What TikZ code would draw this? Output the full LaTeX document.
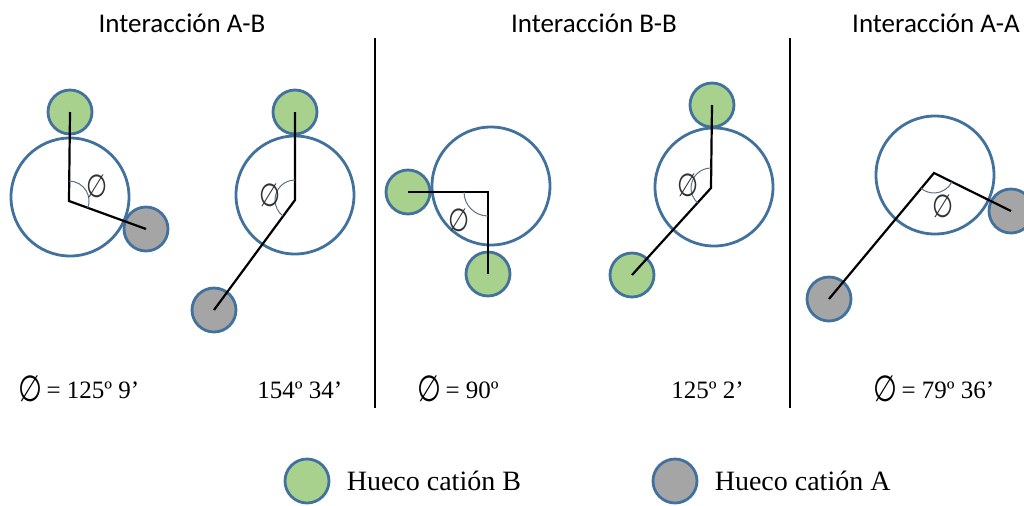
\documentclass[tikz,border=0pt]{standalone}
\usepackage{graphicx}
\usepackage{fontspec}
\setmainfont{Liberation Serif}
\newfontfamily\titulofont{Carlito}
\newfontfamily\simbolofont{DejaVu Sans}
\usetikzlibrary{positioning}

\definecolor{bordeazul}{HTML}{41719C}
\definecolor{verdeB}{HTML}{A9D18E}
\definecolor{grisA}{HTML}{A5A5A5}
\definecolor{arcogris}{HTML}{5A7189}

% simbolo del angulo
\newcommand{\angphi}{\raisebox{-0.12em}{\scalebox{1.1}[1.45]{\simbolofont ∅}}}

\tikzset{
  hueco/.style={circle, draw=bordeazul, line width=1.4pt, inner sep=0pt},
  grande/.style={hueco, minimum size=59pt},
  catB/.style={hueco, fill=verdeB, minimum size=22pt},
  catA/.style={hueco, fill=grisA, minimum size=22pt},
  enlace/.style={line width=1.1pt, black},
  angulo/.style={draw=arcogris, line width=0.5pt},
  simbolo/.style={inner sep=0pt, text=black!80, font=\fontsize{11}{13}\selectfont},
  titulo/.style={anchor=base, inner sep=0pt, font=\titulofont\fontsize{13.5}{16}\selectfont},
  valor/.style={anchor=base west, inner sep=0pt, font=\fontsize{12.5}{15}\selectfont},
  leyenda/.style={inner sep=0pt, font=\fontsize{14}{16}\selectfont},
}

\begin{document}
\begin{tikzpicture}[x=0.5pt, y=-0.5pt, node distance=8pt]
        \useasboundingbox (0,0) rectangle (1024,505);

        % titulos
        \node[titulo] (tAB) at (182,32) {Interacción A-B};
        \node[titulo] (tBB) at (594,32) {Interacción B-B};
        \node[titulo] (tAA) at (936,32) {Interacción A-A};

        % separadores
        \coordinate (s1a) at (375,38);
        \coordinate (s1b) at (375,408);
        \coordinate (s2a) at (790,38);
        \coordinate (s2b) at (790,408);
        \draw[line width=1pt] (s1a) -- (s1b);
        \draw[line width=1pt] (s2a) -- (s2b);

        % huecos grandes
        \node[grande] (g1) at (70,197) {};
        \node[grande] (g2) at (295,195) {};
        \node[grande] (g3) at (491,186) {};
        \node[grande] (g4) at (714,187) {};
        \node[grande] (g5) at (935,175) {};

        % cationes
        \node[catB] (b1) at (70,112) {};
        \node[catA] (a1) at (146,229) {};
        \node[catB] (b2) at (295,112) {};
        \node[catA] (a2) at (214,310) {};
        \node[catB] (b3) at (408,192) {};
        \node[catB] (b4) at (488,274) {};
        \node[catB] (b5) at (712,105) {};
        \node[catB] (b6) at (632,275) {};
        \node[catA] (a3) at (1011,211) {};
        \node[catA] (a4) at (829,299) {};

        % vertices
        \coordinate (v1) at (69,201);
        \coordinate (v2) at (295,200);
        \coordinate (v3) at (488,192);
        \coordinate (v4) at (711,188);
        \coordinate (v5) at (934,173);

        % enlaces
        \draw[enlace] (b1.center) -- (v1) -- (a1.center);
        \draw[enlace] (b2.center) -- (v2) -- (a2.center);
        \draw[enlace] (b3.center) -- (v3) -- (b4.center);
        \draw[enlace] (b5.center) -- (v4) -- (b6.center);
        \draw[enlace] (a3.center) -- (v5) -- (a4.center);

        % angulos
        \draw[angulo] (v1) ++(-90:20) arc[start angle=-90, end angle=20, radius=20];
        \draw[angulo] (v2) ++(-90:20) arc[start angle=-90, end angle=-233, radius=20];
        \draw[angulo] (v3) ++(90:24) arc[start angle=90, end angle=180, radius=24];
        \draw[angulo] (v4) ++(-90:20) arc[start angle=-90, end angle=-228, radius=20];
        \draw[angulo] (v5) ++(26:20) arc[start angle=26, end angle=130, radius=20];

        \node[simbolo] (p1) at (97,186) {\angphi};
        \node[simbolo] (p2) at (270,195) {\angphi};
        \node[simbolo] (p3) at (459,220) {\angphi};
        \node[simbolo] (p4) at (688,185) {\angphi};
        \node[simbolo] (p5) at (943,206) {\angphi};

        % valores
        \node[valor] (val1) at (18,398) {\angphi\,= 125º 9’};
        \node[valor] (val2) at (257,398) {154º 34’};
        \node[valor] (val3) at (417,398) {\angphi\,= 90º};
        \node[valor] (val4) at (671,398) {125º 2’};
        \node[valor] (val5) at (873,398) {\angphi\,= 79º 36’};

        % leyenda
        \node[catB] (legB) at (307,481) {};
        \node[leyenda, right=of legB] (txtB) {Hueco catión B};
        \node[catA] (legA) at (675,481) {};
        \node[leyenda, right=of legA] (txtA) {Hueco catión A};

\end{tikzpicture}
\end{document}
